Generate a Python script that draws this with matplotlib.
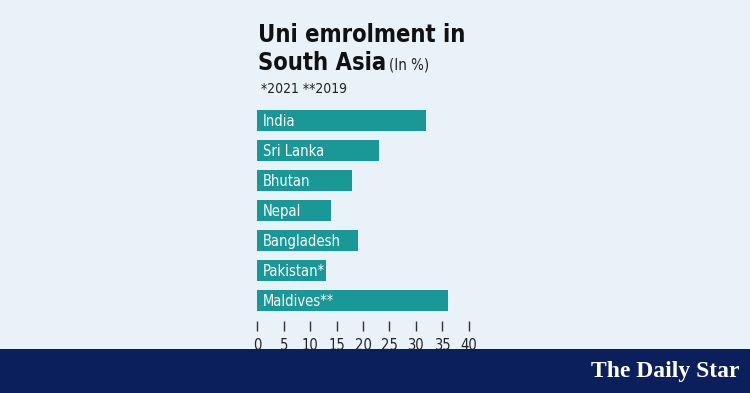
import matplotlib
matplotlib.use('Agg')
import matplotlib.pyplot as plt
from matplotlib.patches import Rectangle

# data
countries = ['India', 'Sri Lanka', 'Bhutan', 'Nepal', 'Bangladesh', 'Pakistan*', 'Maldives**']
enrolment = [32, 23, 18, 14, 19, 13, 36]
xticks = [0, 5, 10, 15, 20, 25, 30, 35, 40]

BG = '#e9f1f9'
BAR = '#1a9898'
NAVY = '#0b1f5c'
FAM = ['DejaVu Sans']
ST = 'condensed'

W, H = 750, 393
fig = plt.figure(figsize=(7.5, 3.93), dpi=100)
fig.patch.set_facecolor(BG)

# axes placed in pixel terms: x 0..40 -> 257..469, y top 105, bottom 321
left, right, top, bottom = 257.3, 468.7, 105, 321
ax = fig.add_axes([left / W, 1 - bottom / H, (right - left) / W, (bottom - top) / H])
ax.set_facecolor('none')

ypos = list(range(len(countries)))
ax.barh(ypos, enrolment, height=0.7, color=BAR, zorder=2)
for y, name in zip(ypos, countries):
    ax.text(1.1, y + 0.04, name, color='white', va='center', ha='left',
            fontsize=10.5, family=FAM, fontstretch=ST, zorder=3)

ax.set_xlim(0, 40)
ax.set_ylim(-0.517 + 216 / 30.0, -0.517)
ax.set_xticks(xticks)
ax.set_xticklabels([str(t) for t in xticks], family=FAM, fontstretch=ST,
                   fontsize=10.5, color='#222222')
ax.set_yticks([])
ax.tick_params(axis='x', direction='out', length=7.2, width=1.0, color='#333333', pad=5)
for s in ax.spines.values():
    s.set_visible(False)

# titles
fig.text(258 / W, 1 - 42 / H, 'Uni emrolment in', fontsize=17, fontweight='bold',
         family=FAM, fontstretch=ST, color='#111111', va='baseline')
fig.text(258 / W, 1 - 70 / H, 'South Asia', fontsize=17, fontweight='bold',
         family=FAM, fontstretch=ST, color='#111111', va='baseline')
fig.text(389 / W, 1 - 70 / H, '(In %)', fontsize=10.8,
         family=FAM, fontstretch=ST, color='#222222', va='baseline')
fig.text(261 / W, 1 - 93 / H, '*2021 **2019', fontsize=10,
         family=FAM, fontstretch=ST, color='#222222', va='baseline')

# navy banner at the bottom with the masthead
fig.patches.append(Rectangle((0, 0), 1, 44 / H, transform=fig.transFigure,
                             facecolor=NAVY, edgecolor='none', zorder=10))
fig.text(665 / W, 1 - 372 / H, 'The Daily Star', fontsize=17, fontweight='bold',
         family=['Liberation Serif', 'DejaVu Serif'], color='white',
         ha='center', va='center', zorder=11)

fig.savefig('out.png', dpi=100, facecolor=BG)
